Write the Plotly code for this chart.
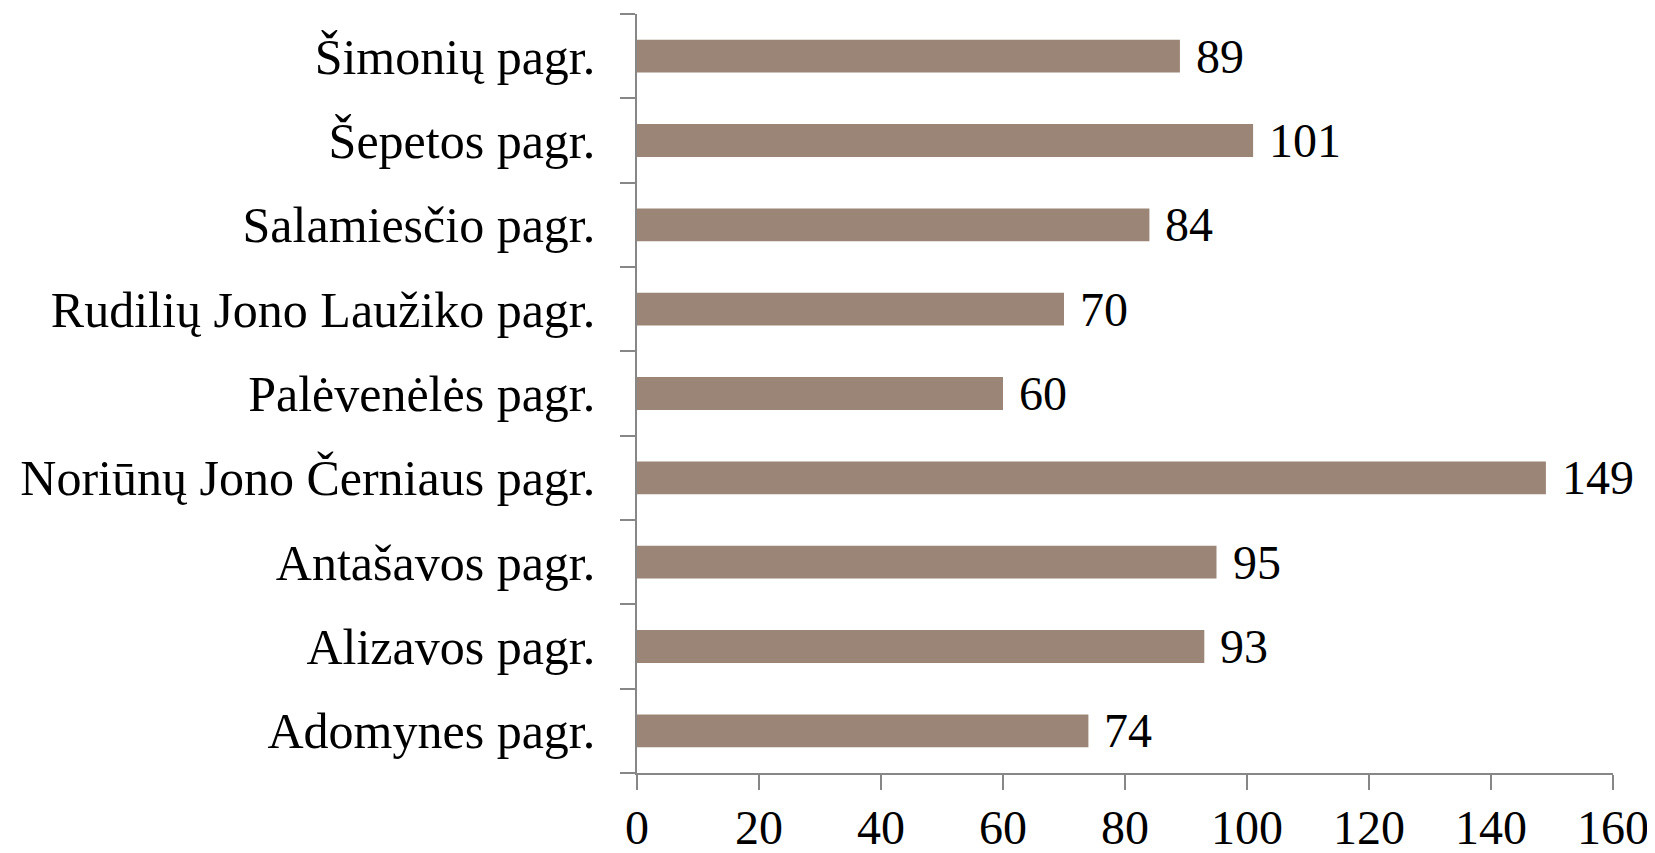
import plotly.graph_objects as go

categories = [
    "Adomynes pagr.",
    "Alizavos pagr.",
    "Antašavos pagr.",
    "Noriūnų Jono Černiaus pagr.",
    "Palėvenėlės pagr.",
    "Rudilių Jono Laužiko pagr.",
    "Salamiesčio pagr.",
    "Šepetos pagr.",
    "Šimonių pagr.",
]
values = [74, 93, 95, 149, 60, 70, 84, 101, 89]
x_ticks = [0, 20, 40, 60, 80, 100, 120, 140, 160]

FONT = "Liberation Serif"
AXIS_COLOR = "#878787"
BAR_COLOR = "#9B8577"

fig = go.Figure()
fig.add_trace(go.Bar(
    x=values, y=categories, orientation="h",
    marker=dict(color=BAR_COLOR, line=dict(width=0)),
    hoverinfo="x+y",
))

annotations = [
    dict(x=v, y=c, text=str(v), xref="x", yref="y", showarrow=False,
         xanchor="left", yanchor="middle", xshift=14,
         font=dict(family=FONT, size=48, color="#000000"))
    for c, v in zip(categories, values)
]

fig.update_layout(
    width=1647, height=845,
    margin=dict(l=629, r=42, t=6, b=80),
    paper_bgcolor="white", plot_bgcolor="white",
    bargap=0.61,
    showlegend=False,
    annotations=annotations,
    font=dict(family=FONT, color="#000000"),
)
fig.update_xaxes(
    range=[0, 160], tickvals=x_ticks, ticktext=[str(t) for t in x_ticks],
    showgrid=False, zeroline=False, automargin=False,
    showline=True, linecolor=AXIS_COLOR, linewidth=1.5,
    ticks="outside", ticklen=15, tickcolor=AXIS_COLOR, tickwidth=1.5,
    tickfont=dict(family=FONT, size=48, color="#000000"),
    ticklabelstandoff=-3,
)
fig.update_yaxes(
    type="category", categoryorder="array", categoryarray=categories,
    showgrid=False, zeroline=False, automargin=False,
    showline=True, linecolor=AXIS_COLOR, linewidth=1.5,
    ticks="outside", ticklen=15, tickcolor=AXIS_COLOR, tickwidth=1.5,
    tickson="boundaries",
    tickfont=dict(family=FONT, size=50, color="#000000"),
    ticklabelstandoff=30,
)

fig.write_html("out.html")
